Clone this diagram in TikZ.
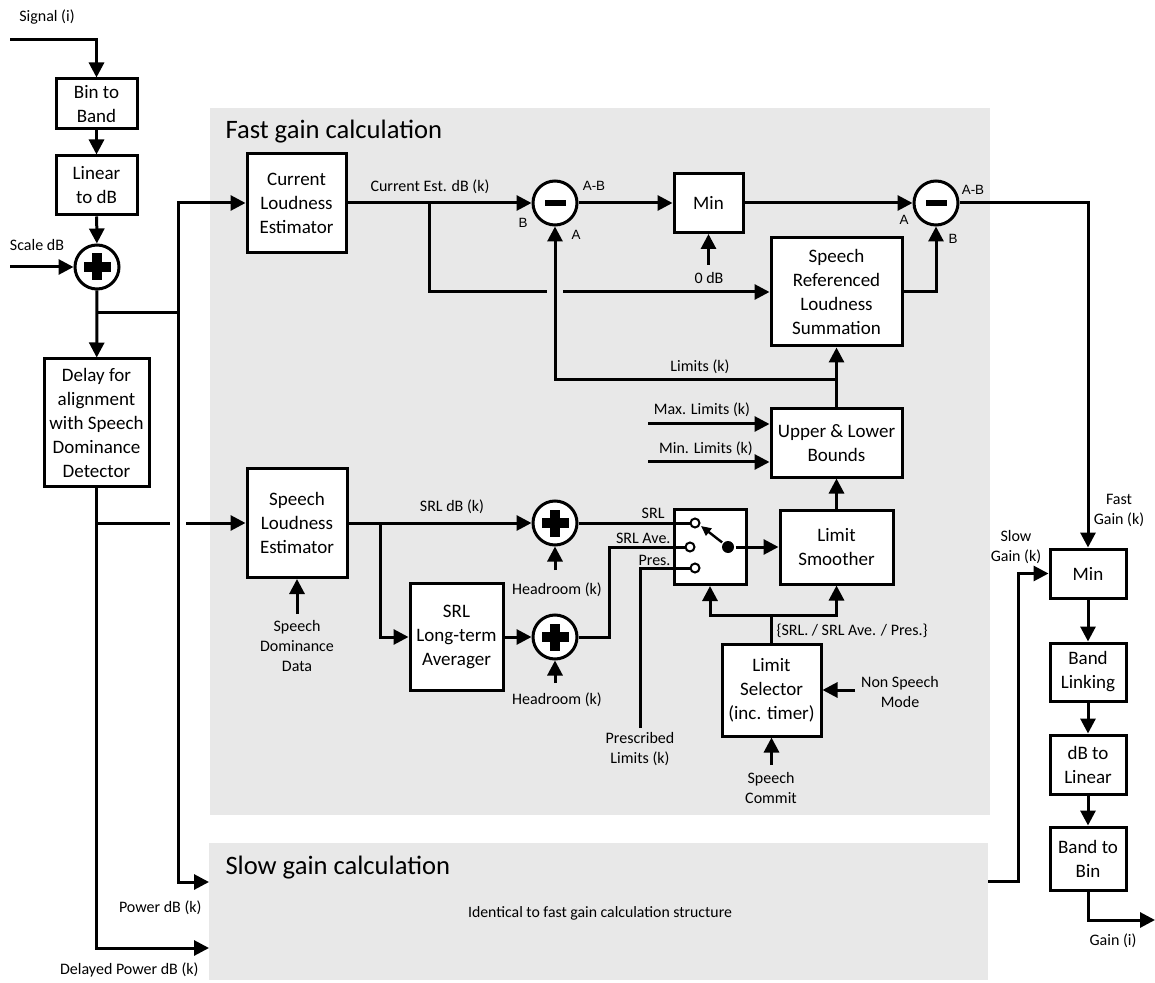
\documentclass[tikz,border=0pt]{standalone}
\usepackage{fontspec}
\setmainfont{Carlito}
\newfontfamily\arialfont{Liberation Sans}
\usetikzlibrary{arrows.meta,positioning}

\definecolor{panelgray}{RGB}{232,232,232}

\begin{document}
\begin{tikzpicture}[x=0.5pt,y=-0.5pt,line width=1.5pt,
                    >={Triangle[length=7.5pt,width=7.5pt]},
                    block node/.style={draw,fill=white,align=center,inner sep=1pt,
                                       font=\fontsize{9.5}{12}\selectfont},
                    sum node/.style={circle,draw,fill=white,minimum size=22pt,inner sep=0pt},
                    plus node/.style={sum node,path picture={
                      \fill[black] (path picture bounding box.center) +(-6.75pt,-2.4pt) rectangle +(6.75pt,2.4pt);
                      \fill[black] (path picture bounding box.center) +(-2.4pt,-6.75pt) rectangle +(2.4pt,6.75pt);}},
                    minus node/.style={sum node,path picture={
                      \fill[black] (path picture bounding box.center) +(-5.25pt,-1.6pt) rectangle +(5.25pt,1.6pt);}},
                    label node/.style={font=\fontsize{8}{10}\selectfont,align=center,inner sep=0pt},
                    port node/.style={font=\arialfont\fontsize{6.7}{8}\selectfont,inner sep=0pt},
                    title node/.style={font=\fontsize{13.3}{16}\selectfont,anchor=west,inner sep=0pt},
                    contact node/.style={circle,draw,fill=white,line width=1pt,minimum size=4.5pt,inner sep=0pt}]

  \useasboundingbox (0,0) rectangle (1155,983);

  %Panels%
  \fill[panelgray] (210,108) rectangle (990,815);
  \fill[panelgray] (209,843) rectangle (988,980);
  \node[title node] (fasttitle) at (224,132) {Fast gain calculation};
  \node[title node] (slowtitle) at (224,868) {Slow gain calculation};
  \node[label node,font=\fontsize{7.9}{9}\selectfont] (slownote) at (600,913) {Identical to fast gain calculation structure};

  %Input chain%
  \node[block node,minimum width=40.5pt,minimum height=25pt] (bin2band) at (96.5,104) {Bin to\\Band};
  \node[block node,minimum width=40.5pt,minimum height=29.5pt,below=12pt of bin2band] (lin2db) {Linear\\to dB};
  \node[plus node] (scalesum) at (97,267) {};
  \node[block node,minimum width=52.5pt,minimum height=63.5pt] (delay) at (96.5,422.5)
       {Delay for\\alignment\\with Speech\\Dominance\\Detector};
  \node[label node] (siglbl) at (47,17) {Signal (i)};
  \node[label node] (scalelbl) at (37,245) {Scale dB};
  \node[label node,anchor=east] (pwrlbl) at (203,908) {Power dB (k)};
  \node[label node,anchor=east] (dpwrlbl) at (200,970) {Delayed Power dB (k)};

  \coordinate (sigin) at (10,40);
  \coordinate (scalein) at (10,267);
  \coordinate (tap) at (97,313);
  \coordinate (bus) at (178,313);
  \coordinate (pwrin) at (209,882);
  \coordinate (dpwrin) at (209,948);
  \coordinate (dtap) at (97,523);
  \coordinate (gapl) at (170,523);
  \coordinate (gapr) at (186,523);

  %Fast gain blocks%
  \node[block node,minimum width=49.5pt,minimum height=49.5pt] (cle) at (296.5,203) {Current\\Loudness\\Estimator};
  \node[block node,minimum width=50pt,minimum height=54.5pt] (sle) at (297,523) {Speech\\Loudness\\Estimator};
  \node[minus node] (sub1) at (555,203) {};
  \node[block node,minimum width=34.5pt,minimum height=29.5pt] (minA) at (708.5,203) {Min};
  \node[minus node] (sub2) at (936,203) {};
  \node[block node,minimum width=65.5pt,minimum height=54pt] (srls) at (836.5,292)
       {Speech\\Referenced\\Loudness\\Summation};
  \node[block node,minimum width=65.5pt,minimum height=34pt] (ulb) at (836.5,443) {Upper \& Lower\\Bounds};
  \node[block node,minimum width=56.5pt,minimum height=37pt] (limsmooth) at (836.5,547) {Limit\\Smoother};
  \node[block node,minimum width=36pt,minimum height=37.5pt] (switch) at (710,547) {};
  \node[plus node] (plus1) at (555,523) {};
  \node[plus node] (plus2) at (555,637) {};
  \node[block node,minimum width=46.5pt,minimum height=53.5pt] (srlavg) at (456.5,637) {SRL\\Long-term\\Averager};
  \node[block node,minimum width=49.5pt,minimum height=46pt] (limsel) at (771.5,690) {Limit\\Selector\\(inc. timer)};

  %Switch contacts%
  \node[contact node] (csrl) at (695,523) {};
  \node[contact node] (cave) at (690,547) {};
  \node[contact node] (cpres) at (695,568) {};
  \node[circle,fill,minimum size=6pt,inner sep=0pt] (pivot) at (728,547) {};
  \coordinate (leverend) at (701,526);

  %Fast gain labels%
  \node[label node] (celbl) at (430,187) {Current Est. dB (k)};
  \node[port node] (sub1b) at (523,223) {B};
  \node[port node] (sub1a) at (576,235) {A};
  \node[port node] (sub1ab) at (594,186) {A-B};
  \node[port node] (sub2a) at (904,220) {A};
  \node[port node] (sub2b) at (953,239) {B};
  \node[port node] (sub2ab) at (973,190) {A-B};
  \node[label node] (zerolbl) at (709,278) {0 dB};
  \node[label node] (limlbl) at (700,367) {Limits (k)};
  \node[label node] (maxlbl) at (702,410) {Max. Limits (k)};
  \node[label node] (minlbl) at (706,449) {Min. Limits (k)};
  \node[label node] (srllbl) at (452,507) {SRL dB (k)};
  \node[label node] (hr1lbl) at (557,590) {Headroom (k)};
  \node[label node] (hr2lbl) at (557,700) {Headroom (k)};
  \node[label node,anchor=east] (swsrl) at (666,513) {SRL};
  \node[label node,anchor=east] (swave) at (672,538) {SRL Ave.};
  \node[label node,anchor=east] (swpres) at (672,560) {Pres.};
  \node[label node] (preslbl) at (640,749) {Prescribed\\Limits (k)};
  \node[label node,anchor=west] (sellbl) at (775,631) {\{SRL. / SRL Ave. / Pres.\}};
  \node[label node] (nsmlbl) at (900,692) {Non Speech\\Mode};
  \node[label node] (sclbl) at (771,788) {Speech\\Commit};
  \node[label node] (sddlbl) at (297,646) {Speech\\Dominance\\Data};

  \coordinate (cetap) at (429,203);
  \coordinate (srlgapl) at (547,292);
  \coordinate (srlgapr) at (563,292);
  \coordinate (zerodb) at (708.5,265);
  \coordinate (limj) at (836.5,380);
  \coordinate (maxin) at (648,424);
  \coordinate (minin) at (648,462);
  \coordinate (slej) at (380,523);
  \coordinate (hr1) at (555,570);
  \coordinate (hr2) at (555,683);
  \coordinate (avebend) at (609,637);
  \coordinate (presin) at (640,728);
  \coordinate (selj) at (771.5,615);
  \coordinate (nsm) at (855,690);
  \coordinate (scin) at (771.5,765);
  \coordinate (sdd) at (297,614);

  %Output chain%
  \node[block node,minimum width=38pt,minimum height=24.5pt] (fmin) at (1088,573.5) {Min};
  \node[block node,minimum width=38pt,minimum height=29pt,below=21pt of fmin] (bandlink) {Band\\Linking};
  \node[block node,minimum width=38pt,minimum height=29.5pt,below=15.5pt of bandlink] (db2lin) {dB to\\Linear};
  \node[block node,minimum width=38pt,minimum height=31.5pt,below=15pt of db2lin] (band2bin) {Band to\\Bin};
  \node[label node] (fastlbl) at (1119,510) {Fast\\Gain (k)};
  \node[label node] (slowlbl) at (1016,547) {Slow\\Gain (k)};
  \node[label node] (gainlbl) at (1113,941) {Gain (i)};
  \coordinate (gainout) at (1155,920);
  \coordinate (slowout) at (988,881);
  \coordinate (slowbend) at (1018,881);

  %Input wiring%
  \draw[->] (sigin) -| (bin2band);
  \path[->] (bin2band) edge (lin2db)
            (lin2db) edge (scalesum)
            (scalein) edge (scalesum);
  \draw[->] (scalesum) -- (delay);
  \draw (tap) -- (bus);
  \draw[->] (bus) |- (cle);
  \draw[->] (bus) |- (pwrin);
  \draw[->] (delay) |- (dpwrin);
  \draw (dtap) -- (gapl);
  \draw[->] (gapr) -- (sle);
  \draw[->] (sdd) -- (sle);

  %Fast gain wiring%
  \draw[->] (cle) -- (sub1);
  \draw (cetap) |- (srlgapl);
  \draw[->] (srlgapr) -- (srls);
  \draw[->] (sub1) -- (minA);
  \draw[->] (zerodb) -- (minA);
  \draw[->] (minA) -- (sub2);
  \draw[->] (srls) -| (sub2);
  \draw[->] (ulb) -- (srls);
  \draw[->] (limj) -| (sub1);
  \draw[->] (maxin) -- (maxin -| ulb.west);
  \draw[->] (minin) -- (minin -| ulb.west);
  \draw[->] (limsmooth) -- (ulb);
  \draw[->] (sle) -- (plus1);
  \draw[->] (slej) |- (srlavg);
  \draw[->] (srlavg) -- (plus2);
  \draw[->] (hr1) -- (plus1);
  \draw[->] (hr2) -- (plus2);
  \draw (plus1) -- (csrl);
  \draw (plus2) -- (avebend) |- (cave);
  \draw (presin) |- (cpres);
  \draw[-{Triangle[length=5pt,width=4.5pt]},line width=1.2pt] (pivot) -- (leverend);
  \draw[->] (pivot) -- (limsmooth);
  \draw (limsel) -- (selj);
  \draw[->] (selj) -| (switch);
  \draw[->] (selj) -| (limsmooth);
  \draw[->] (nsm) -- (limsel);
  \draw[->] (scin) -- (limsel);

  %Output wiring%
  \draw[->] (sub2) -| (fmin);
  \draw[->] (slowout) -- (slowbend) |- (fmin);
  \path[->] (fmin) edge (bandlink)
            (bandlink) edge (db2lin)
            (db2lin) edge (band2bin);
  \draw[->] (band2bin) |- (gainout);
\end{tikzpicture}
\end{document}
